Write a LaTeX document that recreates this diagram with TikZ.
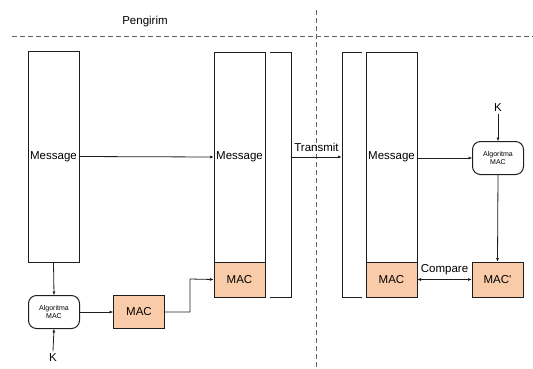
\documentclass[tikz,border=0pt]{standalone}
\usepackage{fontspec}
\setmainfont{Liberation Sans}
\usetikzlibrary{arrows.meta}
\definecolor{macfill}{RGB}{250,203,168}
\definecolor{linec}{RGB}{30,30,30}
\begin{document}
\begin{tikzpicture}[x=1pt,y=-1pt,
  every node/.style={inner sep=0pt,outer sep=0pt},
  box/.style={draw=linec,line width=1pt,minimum width=51pt,anchor=north west},
  macbox/.style={box,fill=macfill,font=\fontsize{11.5}{13}\selectfont},
  algo/.style={draw=linec,line width=1pt,rounded corners=8pt,minimum width=51pt,minimum height=33pt,align=center,font=\fontsize{7}{7.5}\selectfont},
  lbl/.style={font=\fontsize{11.5}{13}\selectfont},
  conn/.style={draw=linec,line width=0.8pt,-{Latex[length=4pt,width=3pt]}},
  dashline/.style={draw=linec!70,line width=0.7pt,dash pattern=on 5pt off 3pt}]
\useasboundingbox (0,0) rectangle (533,368);
% separators
\draw[dashline] (12,36) -- (533,36);
\draw[dashline] (316,10) -- (316,368);
\node[lbl] (peng) at (145,22) {Pengirim};
% left side
\node[box,minimum height=211pt,lbl] (msgL) at (28,51) {Message};
\node[algo] (algL) at (54,312) {Algoritma\\MAC};
\node[macbox,minimum height=33pt,anchor=center] (macL) at (139,312) {MAC};
\node[lbl] (kL) at (53,358) {K};
% middle
\node[box,minimum height=210pt,lbl] (msgM) at (214,52) {Message};
\node[macbox,minimum height=35pt] (macM) at (214,262) {MAC};
\draw[draw=linec,line width=1pt] (270,52) -- (291,52) -- (291,297) -- (270,297);
\coordinate (brM) at (291,157);
% right side
\draw[draw=linec,line width=1pt] (362,52) -- (342,52) -- (342,297) -- (362,297);
\coordinate (brR) at (342,157);
\node[box,minimum height=210pt,lbl] (msgR) at (366,52) {Message};
\node[macbox,minimum height=35pt] (macR) at (366,262) {MAC};
\node[algo] (algR) at (498,158) {Algoritma\\MAC};
\node[lbl] (kR) at (498,108) {K};
\node[macbox,minimum height=35pt] (macP) at (472,262) {MAC\textquotesingle};
% connectors
\draw[conn] (msgL.east) -- (msgM.west);
\draw[conn] (msgL.south) -- (algL.north);
\draw[conn] (kL.north) ++(0,-3) -- (algL.south);
\draw[conn] (algL.east) -- (macL.west);
\draw[conn] (macL.east) -- (190,312) -- (190,279) -- (macM.west);
\draw[conn] (brM) -- node[lbl,above=5pt] (tr) {Transmit} (brR);
\draw[conn] (msgR.east |- algR.west) -- (algR.west);
\draw[conn] (kR.south) ++(0,2) -- (algR.north);
\draw[conn] (algR.south) -- (macP.north);
\draw[draw=linec,line width=0.8pt,{Latex[length=4pt,width=3pt]}-{Latex[length=4pt,width=3pt]}] (macR.east) -- node[lbl,above=5pt] (cmp) {Compare} (macP.west);
\end{tikzpicture}
\end{document}
